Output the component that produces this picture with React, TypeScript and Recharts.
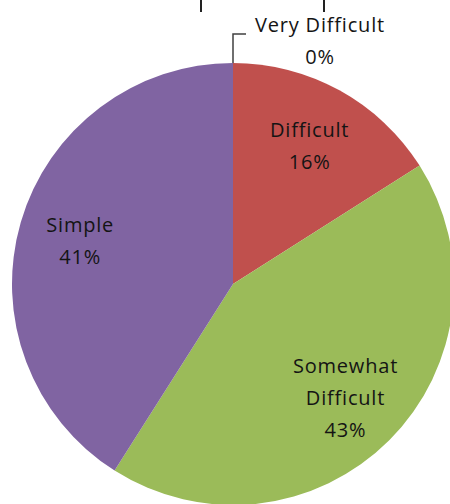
import React from 'react';
import { PieChart, Pie, Cell } from 'recharts';

const categories = ['Very Difficult', 'Difficult', 'Somewhat Difficult', 'Simple'];
const shares = [0, 16, 43, 41];
const colors = ['#4F81BD', '#C0504D', '#9BBB59', '#8064A2'];

// multi-line labels inside the slices
const labelLines: string[][] = [['Very Difficult'], ['Difficult'], ['Somewhat', 'Difficult'], ['Simple']];

const data = categories.map((name, i) => ({ name, value: shares[i] }));

const RAD = Math.PI / 180;
const FONT = '"Open Sans", sans-serif';
const textStyle = { fontSize: 20, fontFamily: FONT, letterSpacing: 0.8 };

const renderLabel = (props: any) => {
  const { cx, cy, midAngle, outerRadius, index, value } = props;
  if (value === 0) {
    // outside label with leader line, as in the original
    const topY = cy - outerRadius;
    const elbowY = topY - 29;
    return (
      <g>
        <polyline
          points={`${cx},${topY} ${cx},${elbowY} ${cx + 13},${elbowY}`}
          fill="none"
          stroke="#404040"
          strokeWidth={1.5}
        />
        <text x={cx + 87} y={elbowY - 2} textAnchor="middle" fill="#141414" style={textStyle}>
          <tspan x={cx + 87} dy={0}>{labelLines[index][0]}</tspan>
          <tspan x={cx + 87} dy={32}>{`${value}%`}</tspan>
        </text>
      </g>
    );
  }
  const r = outerRadius * 0.72;
  const x = cx + r * Math.cos(-midAngle * RAD);
  const y = cy + r * Math.sin(-midAngle * RAD);
  const lines = [...labelLines[index], `${value}%`];
  const lh = 32;
  const startY = y - ((lines.length - 1) * lh) / 2;
  return (
    <text x={x} y={startY} textAnchor="middle" dominantBaseline="central" fill="#141414" style={textStyle}>
      {lines.map((t, i) => (
        <tspan key={i} x={x} y={startY + i * lh}>{t}</tspan>
      ))}
    </text>
  );
};

export default function App() {
  return (
    <div style={{ position: 'absolute', left: 0, top: 0, width: 450, height: 504, background: '#fff' }}>
      <div style={{ position: 'absolute', left: 200, top: 0, width: 1.5, height: 12, background: '#222' }} />
      <div style={{ position: 'absolute', left: 323, top: 0, width: 1.5, height: 12, background: '#222' }} />
      <PieChart width={450} height={504} margin={{ top: 0, right: 0, bottom: 0, left: 0 }}>
        <Pie
          data={data}
          dataKey="value"
          nameKey="name"
          cx={233}
          cy={284}
          outerRadius={221}
          startAngle={90}
          endAngle={-270}
          stroke="none"
          label={renderLabel}
          labelLine={false}
          isAnimationActive={false}
        >
          {data.map((d, i) => (
            <Cell key={d.name} fill={colors[i]} />
          ))}
        </Pie>
      </PieChart>
    </div>
  );
}
